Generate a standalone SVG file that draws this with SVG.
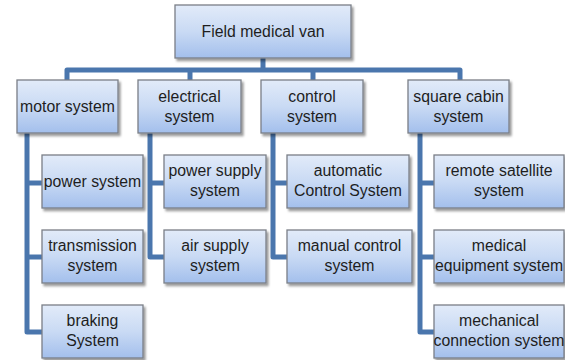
<svg xmlns="http://www.w3.org/2000/svg" width="565" height="360" viewBox="0 0 565 360">
<defs>
<linearGradient id="g" x1="0" y1="0" x2="0" y2="1">
<stop offset="0" stop-color="#e2ebf9"/>
<stop offset="0.5" stop-color="#c9daf4"/>
<stop offset="1" stop-color="#a3bfec"/>
</linearGradient>
<filter id="sh" x="-10%" y="-10%" width="130%" height="140%">
<feDropShadow dx="2" dy="2.5" stdDeviation="1.2" flood-color="#000" flood-opacity="0.4"/>
</filter>
</defs>
<style>
.box{fill:url(#g);stroke:#7a7f87;stroke-width:1.3;filter:url(#sh)}
.t{font-family:"Liberation Sans",Arial,sans-serif;font-size:15.8px;fill:#1e1e1e;text-anchor:middle}
.c{fill:none;stroke:#4a76ad;stroke-width:5;stroke-linejoin:round;stroke-linecap:butt}
</style>
<rect width="565" height="360" fill="#fff"/>
<g id="connectors">
<path class="c" d="M263,58 V70"/>
<path class="c" d="M67,80 V70 H460 V80"/>
<path class="c" d="M190,70 V80"/>
<path class="c" d="M313,70 V80"/>
<path class="c" d="M27,133 V332 H42"/>
<path class="c" d="M27,183 H42"/>
<path class="c" d="M27,257 H42"/>
<path class="c" d="M150,133 V257 H164"/>
<path class="c" d="M150,183 H164"/>
<path class="c" d="M273,133 V257 H287"/>
<path class="c" d="M273,183 H287"/>
<path class="c" d="M420,133 V332 H434"/>
<path class="c" d="M420,183 H434"/>
<path class="c" d="M420,257 H434"/>
</g>
<g id="n-root"><rect class="box" x="175" y="5" width="176" height="53"/><text class="t" x="263" y="37">Field medical van</text></g>
<g id="n-motor"><rect class="box" x="17" y="80" width="101" height="53"/><text class="t" x="67.5" y="112">motor system</text></g>
<g id="n-electrical"><rect class="box" x="138" y="80" width="103" height="53"/><text class="t" x="189.5" y="102">electrical</text><text class="t" x="189.5" y="122">system</text></g>
<g id="n-control"><rect class="box" x="261" y="80" width="102" height="53"/><text class="t" x="312" y="102">control</text><text class="t" x="312" y="122">system</text></g>
<g id="n-cabin"><rect class="box" x="408" y="80" width="101" height="53"/><text class="t" x="458.5" y="102">square cabin</text><text class="t" x="458.5" y="122">system</text></g>
<g id="n-power"><rect class="box" x="42" y="155" width="101" height="53"/><text class="t" x="92.5" y="187">power system</text></g>
<g id="n-transmission"><rect class="box" x="42" y="230" width="101" height="53"/><text class="t" x="92.5" y="251">transmission</text><text class="t" x="92.5" y="271">system</text></g>
<g id="n-braking"><rect class="box" x="42" y="305" width="101" height="53"/><text class="t" x="92.5" y="326">braking</text><text class="t" x="92.5" y="346">System</text></g>
<g id="n-powersupply"><rect class="box" x="164" y="155" width="102" height="53"/><text class="t" x="215" y="176">power supply</text><text class="t" x="215" y="196">system</text></g>
<g id="n-airsupply"><rect class="box" x="164" y="230" width="102" height="53"/><text class="t" x="215" y="251">air supply</text><text class="t" x="215" y="271">system</text></g>
<g id="n-automatic"><rect class="box" x="287" y="155" width="122" height="53"/><text class="t" x="348" y="176">automatic</text><text class="t" x="348" y="196">Control System</text></g>
<g id="n-manual"><rect class="box" x="287" y="230" width="125" height="53"/><text class="t" x="349.5" y="251">manual control</text><text class="t" x="349.5" y="271">system</text></g>
<g id="n-remote"><rect class="box" x="434" y="155" width="130" height="53"/><text class="t" x="499" y="176">remote satellite</text><text class="t" x="499" y="196">system</text></g>
<g id="n-medical"><rect class="box" x="434" y="230" width="130" height="53"/><text class="t" x="499" y="251">medical</text><text class="t" x="499" y="271">equipment system</text></g>
<g id="n-mechanical"><rect class="box" x="434" y="305" width="130" height="53"/><text class="t" x="499" y="326">mechanical</text><text class="t" x="499" y="346">connection system</text></g>
</svg>
